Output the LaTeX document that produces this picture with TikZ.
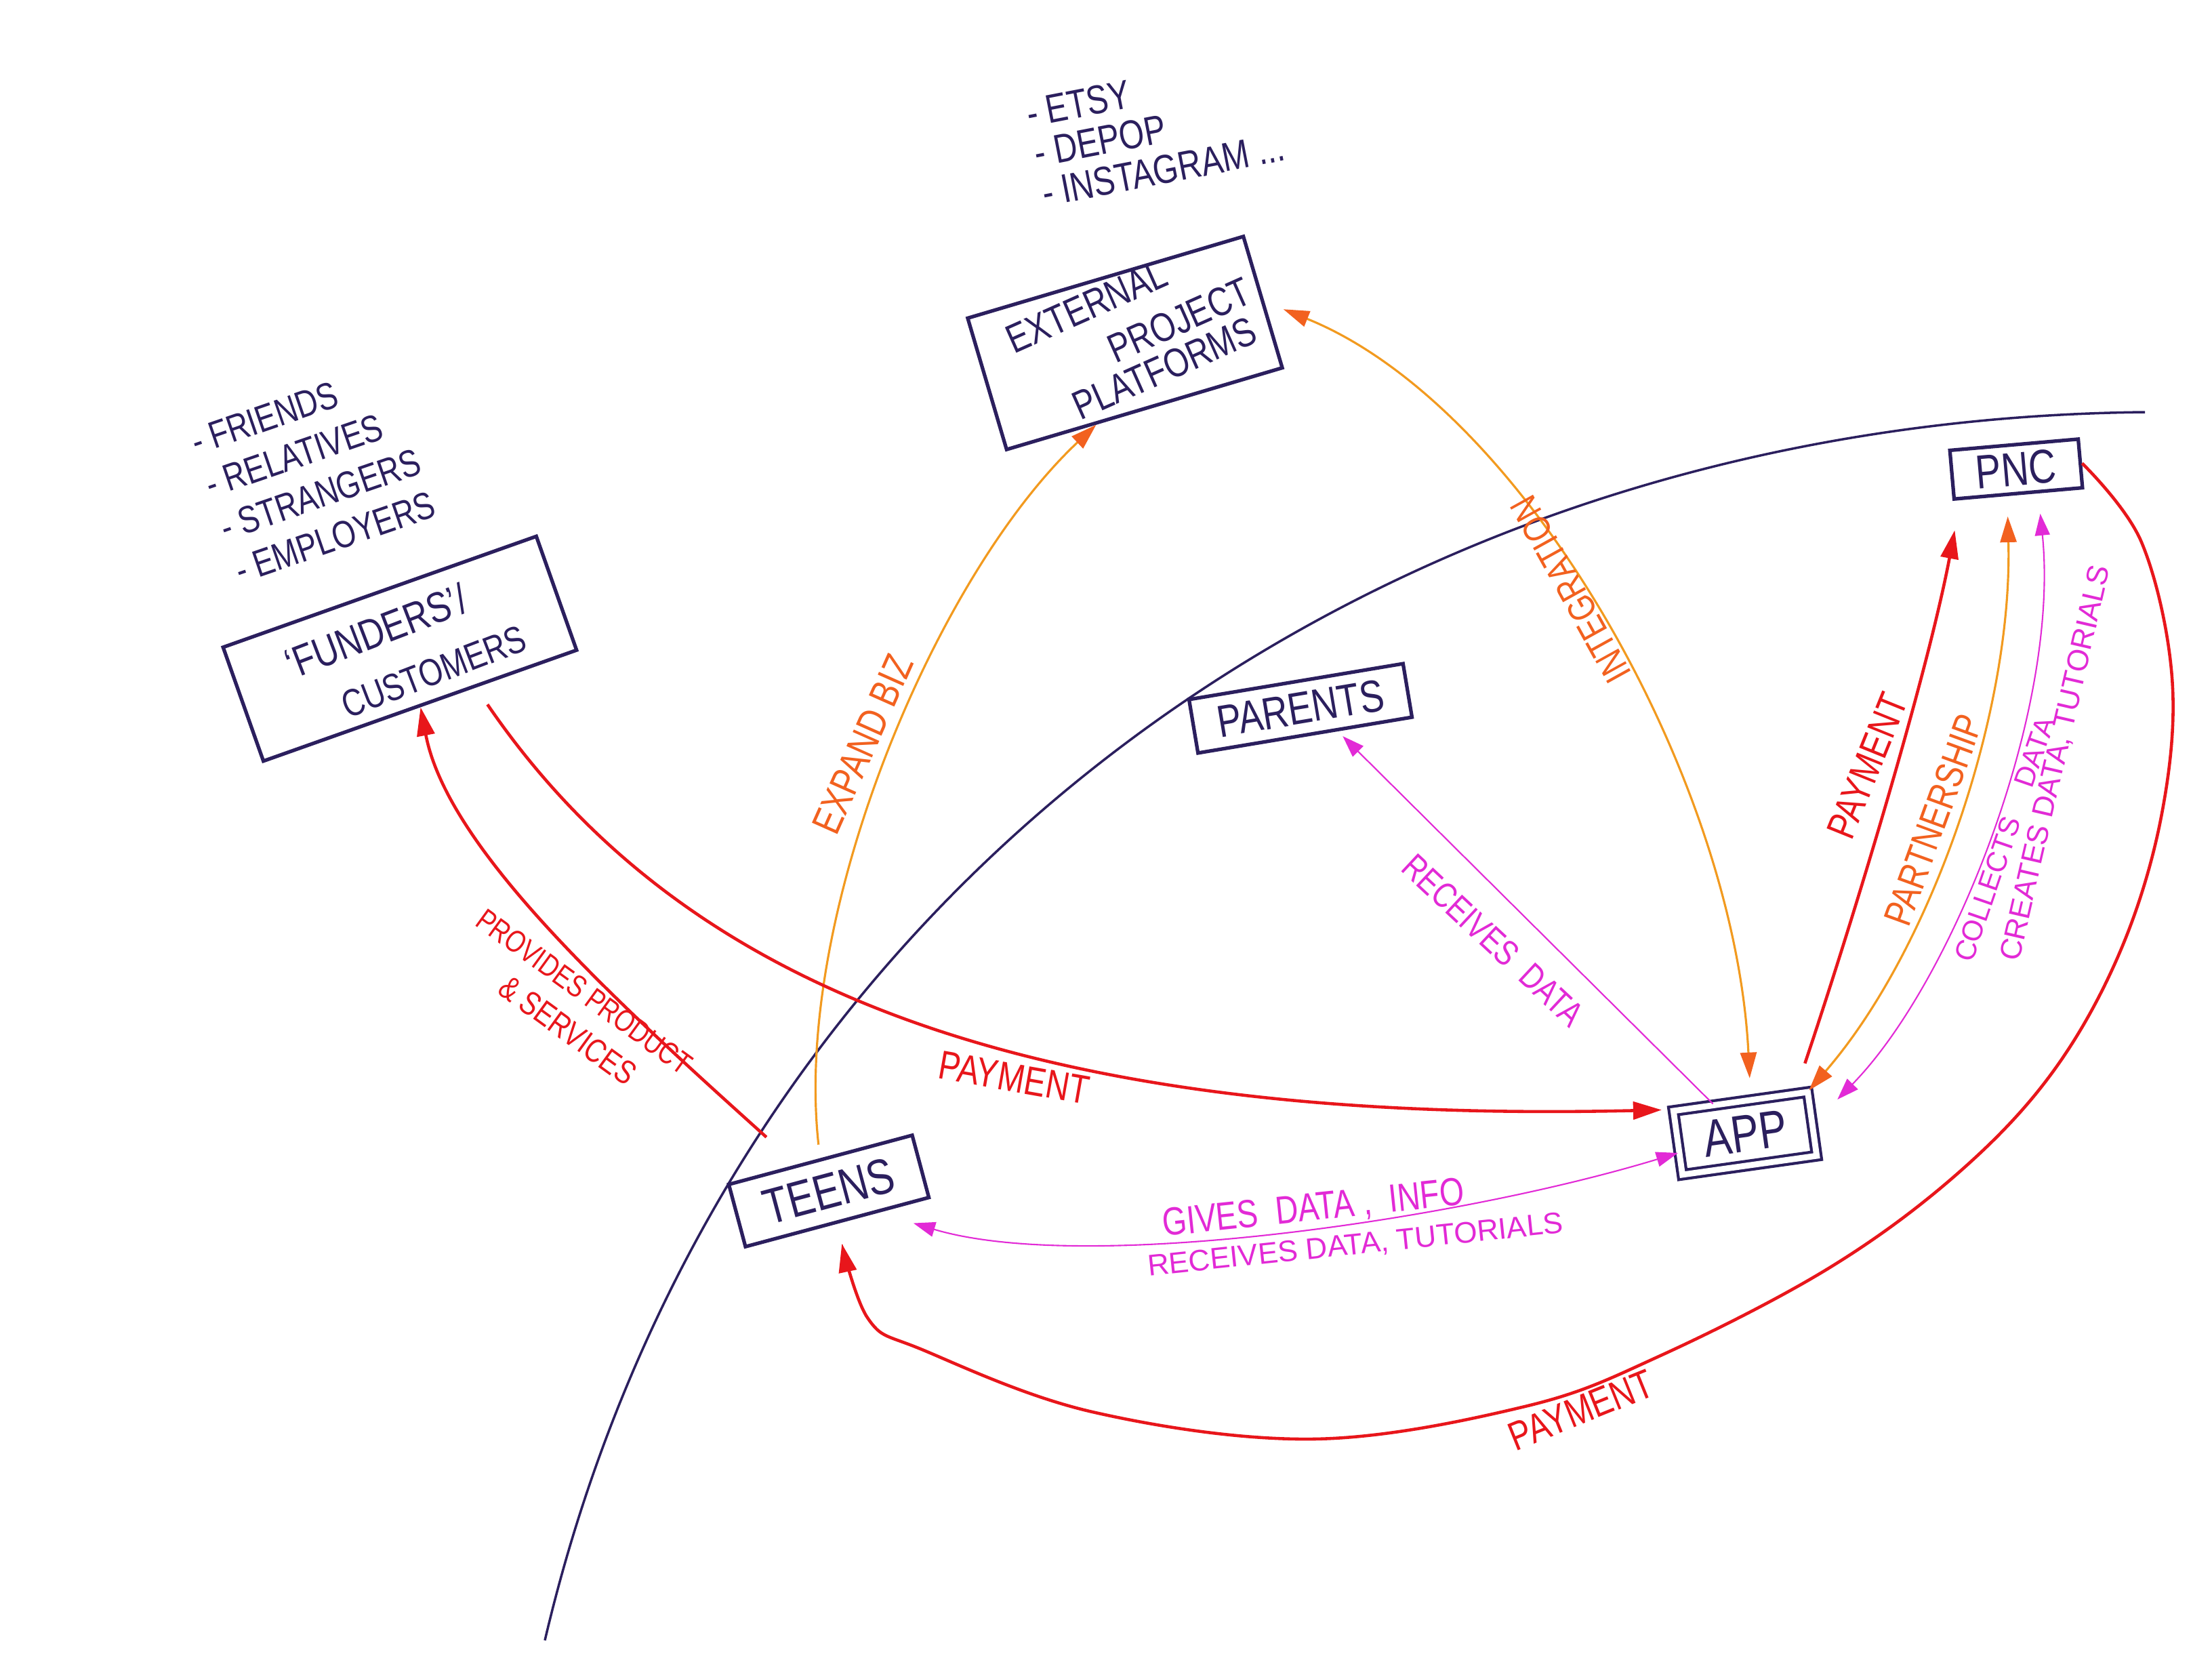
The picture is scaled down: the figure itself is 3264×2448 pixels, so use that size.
\documentclass[tikz,border=0pt]{standalone}
\usepackage{fontspec}
\setmainfont{Liberation Sans}[FakeStretch=0.8]
\newfontfamily\widefont{Liberation Sans}
\usetikzlibrary{arrows.meta,calc}
\definecolor{ink}{HTML}{2B1F5E}
\definecolor{redc}{HTML}{E8161B}
\definecolor{orln}{HTML}{F29A1F}
\definecolor{ortx}{HTML}{F2611F}
\definecolor{mag}{HTML}{E22AD6}
\tikzset{
  RT/.tip={Triangle[length=4.2mm,width=2.6mm,color=redc]},
  OT/.tip={Triangle[length=3.8mm,width=2.4mm,color=ortx]},
  MT/.tip={Triangle[length=3.2mm,width=2.2mm,color=mag]},
}
\begin{document}
\begin{tikzpicture}[x=0.01cm,y=-0.01cm,
  box/.style={draw=ink,line width=1.5pt,inner sep=0pt,text=ink},
  inkt/.style={text=ink,inner sep=0pt},
  lab/.style={inner sep=0pt},
  fs/.style={font=\fontsize{#1}{#1}\selectfont},
  wf/.style={font=\widefont\fontsize{#1}{#1}\selectfont},
  rc/.style={draw=redc,line width=1.3pt},
  oc/.style={draw=orln,line width=0.9pt},
  mc/.style={draw=mag,line width=0.6pt},
  bigarc/.style={draw=ink,line width=1pt}]
\useasboundingbox (0,0) rectangle (3264,2448);
\fill[white] (0,0) rectangle (3264,2448);

% large dividing curve
\coordinate (arcA) at (804,2420);
\coordinate (arcB) at (3165,608);
\draw[bigarc] (arcA) .. controls (1060,1330) and (2000,620) .. (arcB);

% boxes
\node[box, minimum width=4.24cm, minimum height=2.02cm, rotate=16.5] (ext) at (1660,506) {};
\node[inkt, rotate=24, fs=17] (extA) at (1603,452) {EXTERNAL};
\node[inkt, rotate=24, fs=17] (extB) at (1740,472) {PROJECT};
\node[inkt, rotate=24, fs=17] (extC) at (1718,543) {PLATFORMS};

\node[box, minimum width=4.9cm, minimum height=1.78cm, rotate=19.5] (fund) at (590,957) {};
\node[inkt, rotate=21, fs=18] (fundA) at (555,931) {‘FUNDERS’/};
\node[inkt, rotate=21, fs=16] (fundB) at (640,991) {CUSTOMERS};

\node[box, minimum width=3.2cm, minimum height=0.8cm, rotate=9.5, fs=19] (par) at (1919,1045) {PARENTS};
\node[box, double, double distance=2.5pt, line width=1.2pt, minimum width=2.0cm, minimum height=0.95cm, rotate=8, fs=22] (app) at (2575,1672) {APP};
\node[box, minimum width=2.8cm, minimum height=0.95cm, rotate=15, fs=21] (teens) at (1223,1757) {TEENS};
\node[box, minimum width=1.9cm, minimum height=0.72cm, rotate=5, fs=20] (pnc) at (2975,692) {PNC};

% lists
\node[inkt, rotate=11, align=left, font=\fontsize{17}{17}\selectfont] (plat) at (1705,192) {- ETSY\\- DEPOP\\- INSTAGRAM ...};
\node[inkt, rotate=19, align=left, font=\fontsize{16}{19}\selectfont] (flist) at (462,698) {- FRIENDS\\- RELATIVES\\- STRANGERS\\- EMPLOYERS};

% connectors
\draw[oc, -OT, shorten <=2mm] (teens.north) .. controls (1170,1350) and (1380,850) .. ($(ext.south west)!0.65!(ext.south)$);
\draw[oc, OT-OT, shorten <=3mm, shorten >=3mm] (ext.east) .. controls (2250,600) and (2560,1150) .. ($(app.north)!0.15!(app.north east)$);
\draw[rc, -RT, shorten <=3mm, shorten >=1.5mm] ($(fund.south)!0.35!(fund.south east)$) .. controls (1000,1450) and (1500,1660) .. (app.north west);
\draw[rc, -RT, shorten <=6mm] ($(teens.north west)!0.75!(teens.north)$) .. controls (900,1470) and (660,1250) .. (fund.south);
\draw[mc, MT-MT] ([xshift=-2.6mm,yshift=-3.6mm]teens.south east) .. controls (1600,1880) and (2150,1800) .. ($(app.west)!0.3!(app.south west)$);
\draw[rc, -RT, shorten >=3mm] plot[smooth, tension=0.6] coordinates {(pnc.east) (3160,800) (3205,1000) (3190,1200) (3130,1400) (3030,1580) (2890,1730) (2700,1870) (2450,2000) (2250,2075) (1937,2123) (1612,2083) (1363,1992) (1280,1944) (teens.south)};
\draw[rc, -RT, shorten <=4.5mm, shorten >=4.5mm] ($(app.north)!0.8!(app.north east)$) .. controls (2740,1340) and (2845,990) .. ($(pnc.south west)!0.12!(pnc.south)$);
\draw[oc, OT-OT, shorten >=3mm] (app.north east) .. controls (2850,1400) and (2970,1050) .. ($(pnc.south west)!0.83!(pnc.south)$);
\draw[mc, MT-MT, shorten <=5mm, shorten >=3mm] (app.east) .. controls (2880,1450) and (3040,1050) .. ($(pnc.south)!0.3!(pnc.south east)$);
\draw[mc, -MT, shorten >=1mm] ($(app.north west)!0.6!(app.north)$) -- ($(par.south)!0.3!(par.south east)$);

% labels
\node[lab, rotate=66, text=ortx, fs=17] (lexp) at (1273,1098) {EXPAND BIZ};
\node[lab, rotate=119, text=ortx, fs=16] (lint) at (2318,870) {INTEGRATION};
\node[lab, rotate=-10, text=redc, fs=17] (lpay1) at (1496,1590) {PAYMENT};
\node[lab, rotate=-36, text=redc, fs=13] (lprov1) at (862,1463) {PROVIDES PRODUCT};
\node[lab, rotate=-36, text=redc, fs=14] (lprov2) at (838,1520) {\& SERVICES};
\node[lab, rotate=6, text=mag, fs=16.5] (lgive) at (1938,1784) {GIVES\ \ DATA ,\ \ INFO};
\node[lab, rotate=6, text=mag, wf=12.5] (lrecv) at (2000,1838) {RECEIVES DATA, TUTORIALS};
\node[lab, rotate=22, text=redc, fs=17] (lpay2) at (2333,2080) {PAYMENT};
\node[lab, rotate=68, text=redc, fs=17] (lpay3) at (2755,1130) {PAYMENT};
\node[lab, rotate=70, text=ortx, fs=16.5] (lpart) at (2853,1210) {PARTNERSHIP};
\node[lab, rotate=71, text=mag, wf=12] (lcoll) at (2958,1238) {COLLECTS\hspace{0.5cm}DATA};
\node[lab, rotate=77, text=mag, wf=12.5] (lcreat) at (3034,1126) {CREATES DATA, TUTORIALS};
\node[lab, rotate=-43, text=mag, fs=15] (lrpar) at (2203,1387) {RECEIVES\ \ DATA};
\end{tikzpicture}
\end{document}
